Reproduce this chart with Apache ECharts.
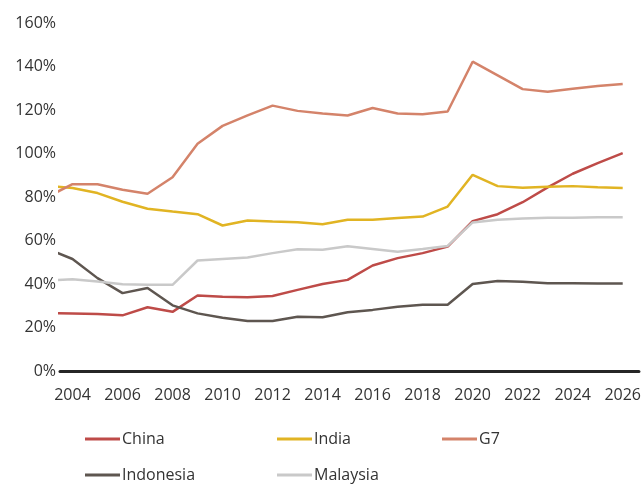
<!DOCTYPE html>
<html>
<head>
<meta charset="utf-8">
<script src="https://cdn.jsdelivr.net/npm/echarts@6/dist/echarts.min.js"></script>
<style>
  html, body { margin: 0; padding: 0; background: #fff; }
  #chart { width: 644px; height: 484px; }
</style>
</head>
<body>
<div id="chart"></div>
<script>
// years, 2003 sits just left of the plot and is clipped like in the original
const years = [2003, 2004, 2005, 2006, 2007, 2008, 2009, 2010, 2011, 2012, 2013, 2014,
  2015, 2016, 2017, 2018, 2019, 2020, 2021, 2022, 2023, 2024, 2025, 2026]
const yearLabels = [2004, 2006, 2008, 2010, 2012, 2014, 2016, 2018, 2020, 2022, 2024, 2026]

const china = [26.6, 26.4, 26.2, 25.6, 29.3, 27.2, 34.7, 34.1, 33.9, 34.5, 37.3, 40.0,
  41.9, 48.5, 51.9, 54.2, 57.2, 68.9, 72.1, 77.6, 84.4, 90.7, 95.6, 100.2]
const india = [85.2, 84.1, 81.8, 77.8, 74.6, 73.3, 72.1, 66.9, 69.2, 68.7, 68.4, 67.5,
  69.5, 69.5, 70.3, 71.0, 75.6, 90.2, 85.0, 84.2, 84.7, 85.0, 84.5, 84.1]
const g7 = [80.1, 85.9, 85.9, 83.3, 81.5, 89.1, 104.5, 112.7, 117.5, 122.0, 119.6, 118.4,
  117.5, 120.9, 118.4, 118.1, 119.3, 142.2, 135.9, 129.6, 128.4, 129.8, 131.0, 131.9]
const indonesia = [56.1, 51.5, 42.7, 35.8, 38.2, 30.2, 26.5, 24.5, 23.0, 23.0, 24.9, 24.7,
  27.0, 28.1, 29.5, 30.5, 30.5, 40.0, 41.4, 41.0, 40.4, 40.4, 40.2, 40.2]
const malaysia = [41.6, 42.2, 41.1, 39.9, 39.6, 39.6, 50.8, 51.5, 52.2, 54.2, 56.0, 55.7,
  57.4, 56.1, 54.8, 56.1, 57.5, 68.3, 69.5, 70.1, 70.5, 70.5, 70.7, 70.7]

const seriesList = [
  { name: 'China', values: china, color: '#BE4B48' },
  { name: 'India', values: india, color: '#E1B423' },
  { name: 'G7', values: g7, color: '#D4836A' },
  { name: 'Indonesia', values: indonesia, color: '#5E5650' },
  { name: 'Malaysia', values: malaysia, color: '#C9C9C9' }
]

const fontFamily = 'Open Sans'
const textColor = '#333'

// legend placement (one legend per entry, like the column layout of the original)
const legendSpots = [
  { left: 85, top: 431 },
  { left: 277, top: 431 },
  { left: 442, top: 431 },
  { left: 85, top: 467 },
  { left: 277, top: 467 }
]

const chart = echarts.init(document.getElementById('chart'), null, { renderer: 'canvas' })

chart.setOption({
  animation: false,
  backgroundColor: '#fff',
  grid: { left: 60, right: 0, top: 23, bottom: 113 },
  legend: seriesList.map((s, i) => ({
    data: [s.name],
    left: legendSpots[i].left,
    top: legendSpots[i].top,
    icon: 'rect',
    itemWidth: 35,
    itemHeight: 3,
    padding: 0,
    selectedMode: false,
    textStyle: { fontFamily: fontFamily, fontSize: 16, color: textColor, padding: [0, 0, 0, -3] }
  })),
  xAxis: {
    type: 'value',
    min: 2003.5,
    max: 2026.65,
    splitLine: { show: false },
    axisTick: { show: false },
    axisLine: { show: true, lineStyle: { color: '#262626', width: 3 } },
    axisLabel: {
      customValues: yearLabels,
      formatter: v => String(v),
      margin: 16,
      fontFamily: fontFamily,
      fontSize: 16,
      color: textColor
    }
  },
  yAxis: {
    type: 'value',
    min: 0,
    max: 160,
    interval: 20,
    splitLine: { show: false },
    axisTick: { show: false },
    axisLine: { show: false },
    axisLabel: {
      formatter: '{value}%',
      margin: 4,
      fontFamily: fontFamily,
      fontSize: 16,
      color: textColor
    }
  },
  series: seriesList.map(s => ({
    name: s.name,
    type: 'line',
    data: years.map((y, i) => [y, s.values[i]]),
    symbol: 'none',
    clip: true,
    color: s.color,
    lineStyle: { color: s.color, width: 2.5 }
  }))
})
</script>
</body>
</html>
